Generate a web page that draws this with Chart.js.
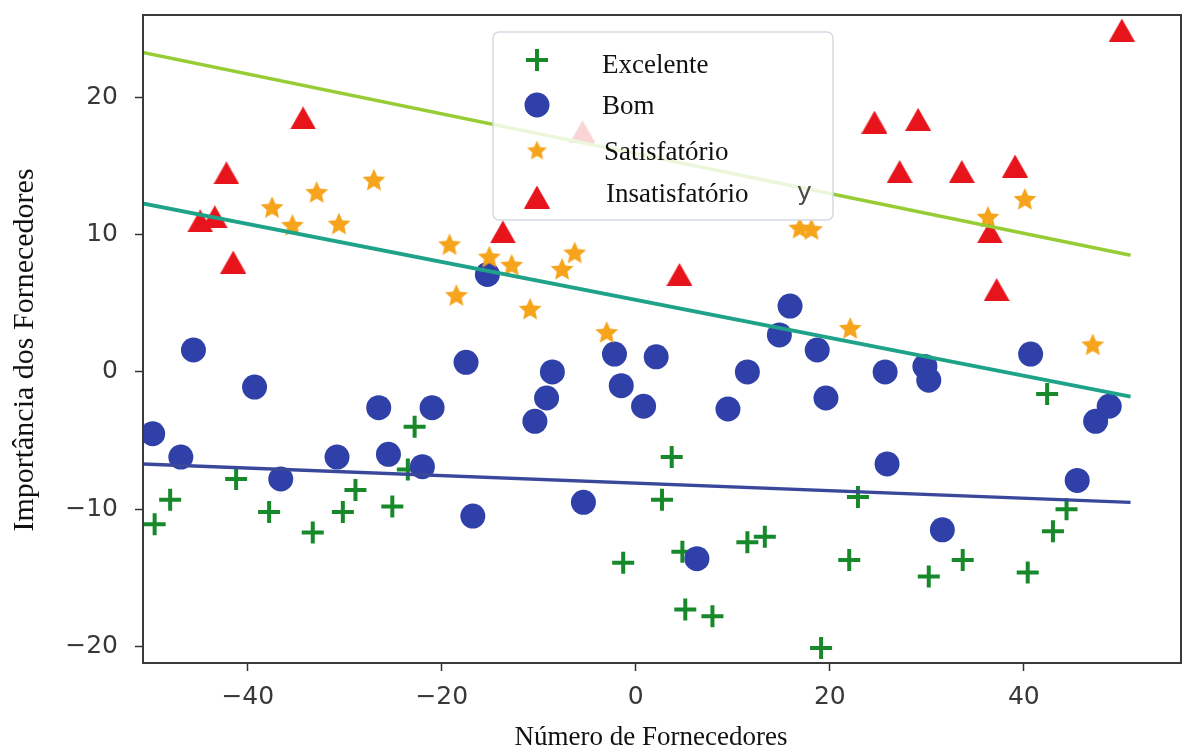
<!DOCTYPE html>
<html><head><meta charset="utf-8">
<script src="https://cdn.jsdelivr.net/npm/chart.js@4/dist/chart.umd.min.js"></script>
<style>html,body{margin:0;padding:0;background:#fff;overflow:hidden}#wrap{position:relative;width:1184px;height:754px}</style>
</head><body><div id="wrap"><canvas id="c" width="1184" height="754"></canvas></div>
<script>
const seriesNames = ["Excelente", "Bom", "Satisfatório", "Insatisfatório"];
const xAxisTitle = "Número de Fornecedores";
const yAxisTitle = "Importância dos Fornecedores";
const xTickValues = [-40, -20, 0, 20, 40];
const yTickValues = [-20, -10, 0, 10, 20];

const excelenteX = [-49.6,-48.0,-41.2,-37.8,-33.3,-30.2,-28.9,-25.1,-23.5,-22.8,-1.3,2.7,3.7,4.8,5.1,7.9,11.5,13.3,19.1,22.0,22.9,30.2,33.7,40.4,42.4,43.0,44.4];
const excelenteY = [-11.1,-9.3,-7.8,-10.2,-11.7,-10.2,-8.6,-9.8,-7.1,-4.0,-13.9,-9.3,-6.2,-13.1,-17.3,-17.8,-12.4,-12.0,-20.1,-13.7,-9.1,-14.9,-13.7,-14.6,-1.6,-11.6,-10.0];

const bomX = [-49.8,-46.9,-45.6,-39.3,-36.6,-30.8,-26.5,-25.5,-22.0,-21.0,-17.5,-16.8,-15.3,-10.4,-9.2,-8.6,-5.4,-2.2,-1.5,0.8,2.1,6.3,9.5,11.5,14.8,15.9,18.7,19.6,25.7,25.9,29.8,30.2,31.6,40.7,45.5,47.4,48.8];
const bomY = [-4.5,-6.2,1.6,-1.1,-7.8,-6.2,-2.6,-6.0,-6.9,-2.6,0.7,-10.5,7.1,-3.6,-1.9,0.0,-9.5,1.3,-1.0,-2.5,1.1,-13.6,-2.7,0.0,2.7,4.8,1.6,-1.9,0.0,-6.7,0.4,-0.6,-11.5,1.3,-7.9,-3.6,-2.5];

const satisfatorioX = [-37.5,-35.4,-32.9,-30.6,-27.0,-19.2,-18.5,-15.1,-12.8,-10.9,-7.6,-6.3,-3.0,16.9,18.1,22.1,36.3,40.1,47.1];
const satisfatorioY = [12.0,10.7,13.1,10.8,14.0,9.3,5.6,8.4,7.8,4.6,7.5,8.7,2.9,10.5,10.4,3.2,11.3,12.6,2.0];

const insatisfatorioX = [-44.9,-43.4,-42.2,-41.5,-34.3,-13.7,-5.5,4.5,24.6,27.2,29.1,33.6,39.1,36.5,37.2,50.1];
const insatisfatorioY = [11.0,11.3,14.5,8.0,18.5,10.2,17.5,7.1,18.2,14.6,18.4,14.6,15.0,10.2,6.0,24.9];

const trendX = [-51, 51];
const trendUpperY = [23.3, 8.5];
const trendMiddleY = [12.3, -1.8];
const trendLowerY = [-6.7, -9.5];

const COL_GREEN = '#17892b', COL_BLUE = '#2f40a8', COL_ORANGE = '#f5a41c', COL_RED = '#e8141c';

function pts(xs, ys){ return xs.map((x,i)=>({x:x, y:ys[i]})); }

function makeStar(color, R, ri){
  const s = Math.ceil(2*R+2); const c = document.createElement('canvas'); c.width = s; c.height = s;
  const g = c.getContext('2d'); g.fillStyle = color; g.beginPath();
  for (let i=0;i<10;i++){ const r = i%2 ? ri : R; const a = -Math.PI/2 + i*Math.PI/5; g.lineTo(s/2 + r*Math.cos(a), s/2 + 1 + r*Math.sin(a)); }
  g.closePath(); g.fill(); return c;
}
function makeTri(color, w, h){
  const c = document.createElement('canvas'); c.width = w; c.height = h;
  const g = c.getContext('2d'); g.fillStyle = color; g.beginPath();
  g.moveTo(w/2, 0); g.lineTo(w, h); g.lineTo(0, h); g.closePath(); g.fill(); return c;
}
const starImg = makeStar(COL_ORANGE, 12, 5.6);
const starLegendImg = makeStar(COL_ORANGE, 10.5, 4.9);
const triImg = makeTri(COL_RED, 26, 23);
const triLegendImg = makeTri(COL_RED, 26, 23);

const framePlugin = {
  id: 'frame',
  afterDatasetsDraw(chart){
    const a = chart.chartArea, ctx = chart.ctx;
    ctx.save(); ctx.strokeStyle = '#3a3a3a'; ctx.lineWidth = 2;
    ctx.strokeRect(a.left, a.top, a.right - a.left, a.bottom - a.top);
    ctx.restore();
  }
};

const decorPlugin = {
  id: 'decor',
  afterDraw(chart){
    const ctx = chart.ctx;
    ctx.save();
    ctx.fillStyle = '#111';
    ctx.font = '27px "Liberation Serif"';
    ctx.textAlign = 'center'; ctx.textBaseline = 'alphabetic';
    ctx.fillText(xAxisTitle, 651, 745);
    ctx.save();
    ctx.translate(33, 350); ctx.rotate(-Math.PI/2);
    ctx.font = '30px "Liberation Serif"';
    ctx.fillText(yAxisTitle, 0, 0);
    ctx.restore();

    const bx = 493, by = 32, bw = 340, bh = 188, r = 6;
    ctx.beginPath();
    ctx.moveTo(bx + r, by); ctx.lineTo(bx + bw - r, by); ctx.arcTo(bx + bw, by, bx + bw, by + r, r);
    ctx.lineTo(bx + bw, by + bh - r); ctx.arcTo(bx + bw, by + bh, bx + bw - r, by + bh, r);
    ctx.lineTo(bx + r, by + bh); ctx.arcTo(bx, by + bh, bx, by + bh - r, r);
    ctx.lineTo(bx, by + r); ctx.arcTo(bx, by, bx + r, by, r); ctx.closePath();
    ctx.fillStyle = 'rgba(255,255,255,0.82)'; ctx.fill();
    ctx.strokeStyle = '#d3dae3'; ctx.lineWidth = 1.5; ctx.stroke();

    const mx = 537;
    ctx.strokeStyle = COL_GREEN; ctx.lineWidth = 4;
    ctx.beginPath(); ctx.moveTo(mx - 11, 60); ctx.lineTo(mx + 11, 60); ctx.moveTo(mx, 49); ctx.lineTo(mx, 71); ctx.stroke();
    ctx.fillStyle = COL_BLUE; ctx.beginPath(); ctx.arc(mx, 105, 12.5, 0, Math.PI*2); ctx.fill();
    ctx.drawImage(starLegendImg, mx - starLegendImg.width/2, 150 - starLegendImg.height/2);
    ctx.drawImage(triLegendImg, mx - triLegendImg.width/2, 197 - triLegendImg.height/2);

    ctx.fillStyle = '#111'; ctx.font = '27px "Liberation Serif"'; ctx.textAlign = 'left'; ctx.textBaseline = 'alphabetic';
    ctx.fillText(seriesNames[0], 602, 73);
    ctx.fillText(seriesNames[1], 602, 114);
    ctx.fillText(seriesNames[2], 604, 160);
    ctx.fillText(seriesNames[3], 606, 202);

    ctx.fillStyle = '#4a4a4a'; ctx.font = '25px "DejaVu Sans"';
    ctx.fillText('y', 797, 200);
    ctx.restore();
  }
};

const minusFmt = v => String(v).replace('-', '\u2212');
const zeroPad = s => { s.paddingTop = 0; s.paddingBottom = 0; s.paddingLeft = 0; s.paddingRight = 0; };

new Chart(document.getElementById('c'), {
  type: 'scatter',
  data: {
    datasets: [
      { label: 'trend-upper', data: pts(trendX, trendUpperY), showLine: true, borderColor: '#96cd35', borderWidth: 3.6, pointRadius: 0, order: 0, clip: 0 },
      { label: 'trend-middle', data: pts(trendX, trendMiddleY), showLine: true, borderColor: '#1fa388', borderWidth: 3.8, pointRadius: 0, order: 0, clip: 0 },
      { label: 'trend-lower', data: pts(trendX, trendLowerY), showLine: true, borderColor: '#3a489c', borderWidth: 3.4, pointRadius: 0, order: 0, clip: 0 },
      { label: seriesNames[2], data: pts(satisfatorioX, satisfatorioY), pointStyle: starImg, pointRadius: 11, order: 1, clip: 0 },
      { label: seriesNames[3], data: pts(insatisfatorioX, insatisfatorioY), pointStyle: triImg, pointRadius: 11, order: 2, clip: 0 },
      { label: seriesNames[1], data: pts(bomX, bomY), pointStyle: 'circle', pointRadius: 12.5, backgroundColor: COL_BLUE, borderColor: COL_BLUE, borderWidth: 0, order: 3, clip: 0 },
      { label: seriesNames[0], data: pts(excelenteX, excelenteY), pointStyle: 'cross', pointRadius: 11, borderColor: COL_GREEN, backgroundColor: COL_GREEN, borderWidth: 4, order: 4, clip: 0 }
    ]
  },
  options: {
    responsive: false, animation: false, devicePixelRatio: 1,
    layout: { autoPadding: false, padding: { left: 0, top: 15, right: 3, bottom: 0 } },
    plugins: { legend: { display: false }, tooltip: { enabled: false } },
    events: [],
    scales: {
      x: {
        type: 'linear', min: -50.8, max: 56.2,
        afterBuildTicks: s => { s.ticks = xTickValues.map(v => ({ value: v })); },
        afterFit: s => { s.height = 91; zeroPad(s); },
        border: { display: false },
        grid: { display: true, drawOnChartArea: false, drawTicks: true, tickLength: 8, tickColor: '#333', tickWidth: 1.5 },
        ticks: { padding: 11, color: '#383838', font: { family: 'DejaVu Sans', size: 25 }, callback: minusFmt, maxRotation: 0, autoSkip: false }
      },
      y: {
        type: 'linear', min: -21.2, max: 26.0,
        afterBuildTicks: s => { s.ticks = yTickValues.map(v => ({ value: v })); },
        afterFit: s => { s.width = 143; zeroPad(s); },
        border: { display: false },
        grid: { display: true, drawOnChartArea: false, drawTicks: true, tickLength: 8, tickColor: '#333', tickWidth: 1.5 },
        ticks: { padding: 17, color: '#383838', font: { family: 'DejaVu Sans', size: 25 }, callback: minusFmt, autoSkip: false }
      }
    }
  },
  plugins: [framePlugin, decorPlugin]
});
</script></body></html>
